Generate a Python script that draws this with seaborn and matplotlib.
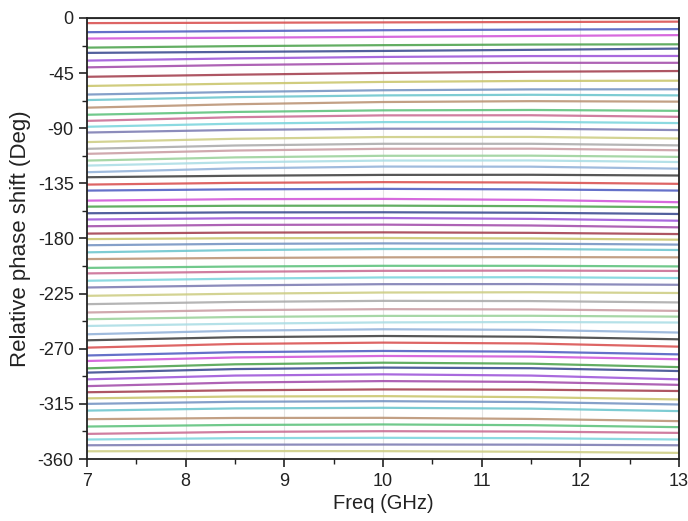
import numpy as np
import pandas as pd
import matplotlib
matplotlib.use("Agg")
import matplotlib.pyplot as plt
from matplotlib import font_manager
from matplotlib.ticker import MultipleLocator
import seaborn as sns

# Measured relative phase of the 64 phase states (state 0 is the reference)
freqs = [7.0, 8.5, 10.0, 11.5, 13.0]

phase_states = [
    [0.0, 0.0, 0.0, 0.0, 0.0],
    [-4.2, -3.9, -3.6, -3.3, -3.0],
    [-11.6, -10.7, -10.0, -9.5, -9.1],
    [-16.8, -16.1, -15.4, -14.7, -14.0],
    [-24.2, -23.0, -22.2, -21.7, -21.5],
    [-28.5, -27.7, -26.9, -26.0, -25.0],
    [-34.8, -33.0, -31.8, -31.1, -31.0],
    [-40.3, -38.4, -37.2, -36.6, -36.6],
    [-48.0, -46.3, -44.9, -43.9, -43.3],
    [-55.5, -53.6, -52.2, -51.4, -51.2],
    [-62.5, -60.4, -59.0, -58.3, -58.2],
    [-67.0, -64.6, -63.2, -62.7, -63.2],
    [-73.2, -70.4, -68.6, -67.9, -68.3],
    [-79.0, -76.7, -75.4, -75.1, -75.8],
    [-84.0, -81.0, -79.5, -79.4, -80.7],
    [-88.8, -86.3, -85.0, -84.8, -85.8],
    [-93.5, -91.4, -90.4, -90.4, -91.5],
    [-101.3, -98.6, -97.2, -97.1, -98.4],
    [-106.8, -104.1, -102.7, -102.7, -104.0],
    [-110.9, -108.2, -106.8, -106.7, -108.0],
    [-116.4, -113.8, -112.5, -112.4, -113.4],
    [-120.5, -117.8, -116.4, -116.3, -117.6],
    [-125.9, -122.8, -121.3, -121.4, -123.0],
    [-130.0, -128.8, -128.1, -128.0, -128.6],
    [-136.0, -134.6, -134.0, -134.3, -135.4],
    [-140.9, -139.9, -139.5, -139.9, -140.9],
    [-149.1, -147.9, -147.7, -148.5, -150.4],
    [-154.0, -153.3, -153.2, -153.6, -154.5],
    [-159.4, -158.7, -158.6, -159.0, -160.0],
    [-164.5, -163.5, -163.3, -164.0, -165.5],
    [-170.0, -168.9, -168.7, -169.4, -170.9],
    [-176.0, -175.2, -175.0, -175.4, -176.4],
    [-180.5, -179.8, -179.6, -180.0, -181.0],
    [-185.5, -184.4, -184.0, -184.2, -185.0],
    [-191.3, -189.5, -188.6, -188.6, -189.4],
    [-196.8, -195.9, -195.4, -195.2, -195.4],
    [-204.0, -202.9, -202.3, -202.3, -202.8],
    [-208.5, -207.2, -206.4, -206.2, -206.5],
    [-214.5, -212.8, -211.8, -211.6, -212.3],
    [-220.0, -218.3, -217.3, -217.2, -217.8],
    [-226.8, -225.1, -224.1, -223.9, -224.5],
    [-233.6, -231.8, -230.9, -231.1, -232.2],
    [-240.4, -238.5, -237.7, -237.9, -239.1],
    [-245.9, -244.1, -243.2, -243.1, -243.8],
    [-251.4, -249.6, -248.5, -248.2, -248.6],
    [-258.2, -255.3, -254.1, -254.6, -256.8],
    [-263.1, -260.6, -259.6, -260.2, -262.3],
    [-269.1, -266.1, -265.0, -265.7, -268.3],
    [-275.5, -272.8, -271.8, -272.4, -274.6],
    [-280.0, -277.1, -275.9, -276.4, -278.6],
    [-286.0, -282.7, -281.4, -282.2, -285.0],
    [-289.5, -286.6, -285.4, -285.9, -288.2],
    [-295.0, -291.9, -290.9, -291.9, -295.0],
    [-300.5, -297.6, -296.4, -297.1, -299.5],
    [-305.5, -303.9, -303.2, -303.4, -304.5],
    [-310.5, -309.0, -308.7, -309.5, -311.4],
    [-315.0, -313.3, -312.8, -313.5, -315.5],
    [-320.5, -318.7, -318.2, -318.9, -320.9],
    [-327.5, -326.5, -326.4, -327.3, -329.1],
    [-333.5, -332.2, -331.8, -332.4, -334.0],
    [-339.5, -337.9, -337.3, -337.6, -338.7],
    [-344.1, -343.0, -342.7, -343.0, -344.1],
    [-348.8, -348.3, -348.2, -348.3, -348.8],
    [-353.7, -353.5, -353.6, -354.1, -355.0],
]

# Repeating line colour cycle
color_cycle = [
    "#3a3a3a", "#d84a4a", "#4a58c0", "#d050d8", "#48a048", "#34448c",
    "#9a50d8", "#a048a8", "#a03848", "#c8c468", "#7090c0", "#68c4cc",
    "#b89070", "#58c078", "#c86890", "#78d4dc", "#7878b0", "#cccc80",
    "#a8a8a8", "#c89aa0", "#98d098", "#a8dce4", "#90b0d8",
]

x_ticks = [7, 8, 9, 10, 11, 12, 13]
y_ticks = [0, -45, -90, -135, -180, -225, -270, -315, -360]

n_states = len(phase_states)
state_names = [f"S{i}" for i in range(n_states)]
records = []
for name, values in zip(state_names, phase_states):
    for f, v in zip(freqs, values):
        records.append({"Freq": f, "Phase": v, "State": name})
df = pd.DataFrame(records)
palette = [color_cycle[i % len(color_cycle)] for i in range(n_states)]

sns.set_style("ticks")
installed = {f.name for f in font_manager.fontManager.ttflist}
main_font = "Liberation Sans Narrow" if "Liberation Sans Narrow" in installed else "Liberation Sans"
plt.rcParams["font.family"] = [main_font, "DejaVu Sans"]

fig = plt.figure(figsize=(6.88, 5.21), dpi=100)
ax = fig.add_axes([0.1265, 0.119, 0.8605, 0.8465])

for xv in x_ticks[1:-1]:
    ax.axvline(xv, color="#e4e4e4", lw=0.8, zorder=0)

sns.lineplot(data=df, x="Freq", y="Phase", hue="State", hue_order=state_names,
             palette=palette, estimator=None, sort=False, legend=False,
             linewidth=1.6, alpha=0.85, ax=ax)

ax.set_xlim(7, 13)
ax.set_ylim(-360, 0)
ax.set_xticks(x_ticks)
ax.set_yticks(y_ticks)
ax.set_yticklabels([str(v) for v in y_ticks])
ax.xaxis.set_minor_locator(MultipleLocator(0.5))
ax.yaxis.set_minor_locator(MultipleLocator(22.5))
ax.tick_params(axis="both", which="major", direction="out", length=6, width=1.2,
               color="#222222", labelsize=13, labelcolor="#222222")
ax.tick_params(axis="both", which="minor", direction="out", length=3.5, width=1.0,
               color="#222222")
ax.tick_params(axis="x", pad=4)
for side in ["top", "right", "bottom", "left"]:
    ax.spines[side].set_visible(True)
    ax.spines[side].set_color("#222222")
    ax.spines[side].set_linewidth(1.3)

ax.set_xlabel("Freq (GHz)", fontsize=14.5, color="#222222", labelpad=3)
ax.set_ylabel("Relative phase shift (Deg)", fontsize=16, color="#222222", labelpad=5)

fig.savefig("out.png", dpi=100)
